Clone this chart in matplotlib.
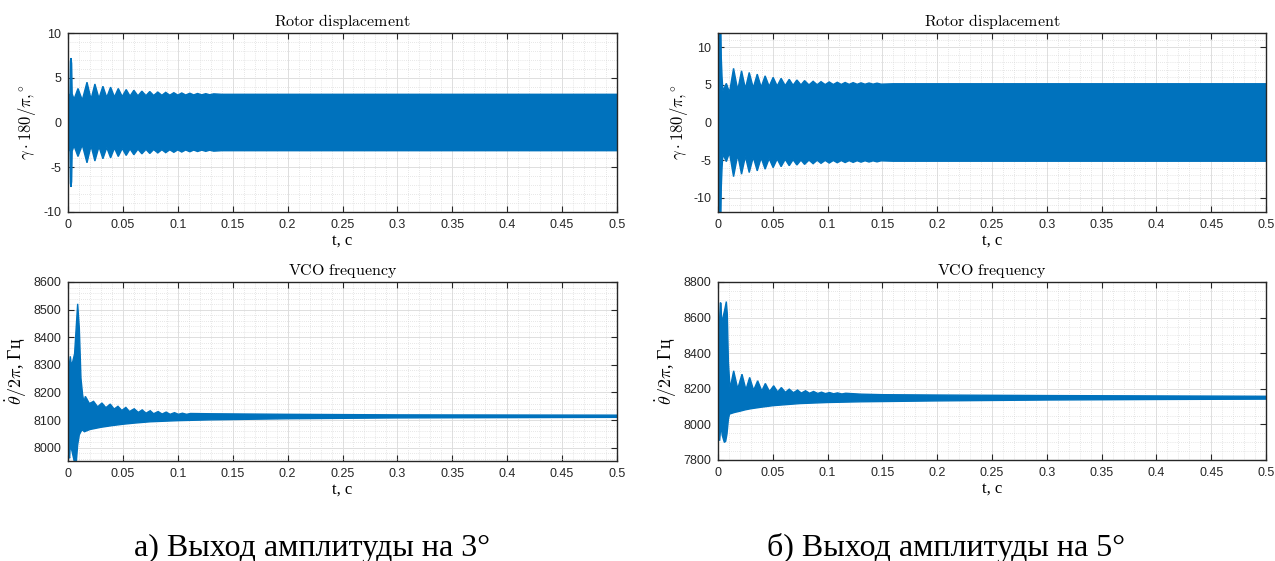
import numpy as np
import matplotlib
matplotlib.use("Agg")
import matplotlib.pyplot as plt
from matplotlib.ticker import MultipleLocator, FuncFormatter

plt.rcParams['mathtext.fontset'] = 'cm'
plt.rcParams['axes.unicode_minus'] = False
plt.rcParams['font.family'] = ['Liberation Serif', 'DejaVu Serif']

BLUE = '#0072BD'

# --- Rotor displacement, 3 deg: envelope amplitude (signal is symmetric around 0)
t_rot3 = [0, 0.0005, 0.0018, 0.0022, 0.0027, 0.0033, 0.0038, 0.0055,
          0.0091, 0.0130, 0.0173, 0.0210, 0.0245, 0.0282, 0.0318, 0.0353,
          0.0388, 0.0423, 0.0458, 0.0494, 0.0530, 0.0565, 0.0600, 0.0637,
          0.0673, 0.0710, 0.0745, 0.0780, 0.0818, 0.0855, 0.0890, 0.0927,
          0.0964, 0.1000, 0.1036, 0.1072, 0.1110, 0.1145, 0.1180, 0.1218,
          0.1255, 0.1290, 0.1327, 0.1400, 0.2, 0.3, 0.4, 0.5]
amp_rot3 = [0.3, 3.0, 3.2, 6.8, 7.2, 6.6, 3.2, 2.6,
            3.8, 2.5, 4.5, 2.6, 4.3, 2.7, 4.05, 2.8,
            3.95, 2.85, 3.8, 2.9, 3.68, 2.95, 3.6, 2.98,
            3.5, 3.0, 3.46, 3.02, 3.4, 3.04, 3.37, 3.05,
            3.33, 3.06, 3.3, 3.07, 3.27, 3.08, 3.24, 3.09,
            3.22, 3.1, 3.2, 3.15, 3.15, 3.15, 3.15, 3.15]

# --- Rotor displacement, 5 deg
t_rot5 = [0, 0.0004, 0.0008, 0.0025, 0.0030, 0.0037, 0.0045,
          0.0076, 0.0105, 0.0142, 0.0180, 0.0215, 0.0250, 0.0285, 0.0322,
          0.0358, 0.0394, 0.0430, 0.0467, 0.0503, 0.0540, 0.0576, 0.0613,
          0.0650, 0.0685, 0.0720, 0.0757, 0.0790, 0.0830, 0.0868, 0.0905,
          0.0940, 0.0978, 0.1015, 0.1052, 0.1088, 0.1125, 0.1160, 0.1197,
          0.1233, 0.1270, 0.1305, 0.1342, 0.1378, 0.1415, 0.1451, 0.1488,
          0.16, 0.2, 0.3, 0.4, 0.5]
amp_rot5 = [0.5, 5.0, 14, 14, 8.6, 6.0, 4.2,
            5.2, 4.0, 7.2, 4.3, 6.87, 4.5, 6.65, 4.6,
            6.43, 4.7, 6.2, 4.8, 6.0, 4.85, 5.87, 4.9,
            5.74, 4.95, 5.65, 5.0, 5.57, 5.0, 5.48, 5.02,
            5.43, 5.04, 5.39, 5.05, 5.35, 5.06, 5.32, 5.07,
            5.3, 5.08, 5.27, 5.09, 5.25, 5.1, 5.23, 5.1,
            5.15, 5.15, 5.15, 5.15, 5.15]

# --- VCO frequency, 3 deg: upper and lower edge of the band
t_vco3_hi = [0, 0.0004, 0.0021, 0.0030, 0.0042, 0.0060, 0.0088, 0.0103,
             0.0118, 0.0133, 0.0145, 0.0158, 0.0195, 0.0233, 0.0270, 0.0309,
             0.0345, 0.0385, 0.0420, 0.0455, 0.0490, 0.0527, 0.0560, 0.0603,
             0.0640, 0.0676, 0.0710, 0.0749, 0.0780, 0.0821, 0.0857, 0.0894,
             0.0930, 0.0970, 0.1005, 0.1042, 0.1080, 0.1115, 0.1300, 0.2,
             0.3, 0.5]
v_vco3_hi = [8160, 8270, 8331, 8300, 8310, 8340, 8521, 8434,
             8252, 8192, 8165, 8186, 8160, 8168, 8148, 8162,
             8145, 8158, 8140, 8150, 8135, 8146, 8131, 8141,
             8128, 8137, 8125, 8134, 8123, 8131, 8122, 8129,
             8121, 8127, 8121, 8125, 8121, 8124, 8123, 8121,
             8119, 8118]
t_vco3_lo = [0, 0.0006, 0.0015, 0.0021, 0.0035, 0.0060, 0.0075, 0.0088,
             0.0103, 0.0127, 0.0150, 0.02, 0.03, 0.04, 0.05, 0.06,
             0.075, 0.1, 0.13, 0.2, 0.3, 0.5]
v_vco3_lo = [8070, 7975, 7962, 8010, 7990, 7945, 7945, 8010,
             8047, 8065, 8058, 8066, 8074, 8080, 8085, 8089,
             8094, 8098, 8101, 8105, 8108, 8110]

# --- VCO frequency, 5 deg
t_vco5_hi = [0, 0.0004, 0.0012, 0.0021, 0.0028, 0.0033, 0.0045, 0.0060,
             0.0076, 0.0085, 0.0095, 0.0110, 0.0143, 0.0180, 0.0219, 0.0255,
             0.0289, 0.0325, 0.0362, 0.0400, 0.0432, 0.0470, 0.0508, 0.0545,
             0.0578, 0.0615, 0.0650, 0.0688, 0.0726, 0.0760, 0.0799, 0.0835,
             0.0872, 0.0910, 0.0945, 0.0980, 0.1018, 0.1055, 0.1090, 0.1130,
             0.1165, 0.13, 0.15, 0.2, 0.3, 0.4, 0.5]
v_vco5_hi = [8250, 8400, 8550, 8684, 8680, 8560, 8600, 8640,
             8690, 8620, 8350, 8200, 8301, 8200, 8282, 8195,
             8264, 8192, 8245, 8188, 8230, 8185, 8217, 8182,
             8207, 8180, 8198, 8178, 8193, 8176, 8189, 8175,
             8185, 8174, 8181, 8173, 8179, 8172, 8177, 8171,
             8175, 8170, 8167, 8165, 8162, 8160, 8158]
t_vco5_lo = [0, 0.0005, 0.0015, 0.0022, 0.0028, 0.0038, 0.0058, 0.0070,
             0.0082, 0.0095, 0.0105, 0.015, 0.02, 0.025, 0.03, 0.04,
             0.05, 0.06, 0.075, 0.1, 0.13, 0.2, 0.3, 0.4, 0.5]
v_vco5_lo = [8050, 7950, 7908, 7960, 8000, 7940, 7899, 7905,
             7946, 8030, 8058, 8067, 8074, 8082, 8088, 8097,
             8105, 8110, 8117, 8123, 8127, 8132, 8137, 8140, 8142]

x_ticks = [0, 0.05, 0.1, 0.15, 0.2, 0.25, 0.3, 0.35, 0.4, 0.45, 0.5]
captions = ['а) Выход амплитуды на 3°', 'б) Выход амплитуды на 5°']

fig = plt.figure(figsize=(12.75, 5.61), dpi=100)
W, H = 1275.0, 561.0


def make_ax(x0, y0, x1, y1):
    return fig.add_axes([x0 / W, 1 - y1 / H, (x1 - x0) / W, (y1 - y0) / H])


def style(ax, ylim, ymajor, yminor, title, ylabel, ylabel_size, pad):
    ax.set_xlim(0, 0.5)
    ax.set_ylim(*ylim)
    ax.set_xticks(x_ticks)
    ax.yaxis.set_major_locator(MultipleLocator(ymajor))
    ax.xaxis.set_minor_locator(MultipleLocator(0.01))
    ax.yaxis.set_minor_locator(MultipleLocator(yminor))
    fmt = FuncFormatter(lambda v, _: f'{v:g}')
    ax.xaxis.set_major_formatter(fmt)
    ax.yaxis.set_major_formatter(fmt)
    ax.grid(which='major', color='#dedede', lw=0.7, ls='-')
    ax.grid(which='minor', color='#d0d0d0', lw=0.5, ls=(0, (1, 2)))
    ax.set_axisbelow(True)
    ax.tick_params(which='major', direction='in', length=4, top=True, right=True,
                   color='#262626', labelsize=9, labelcolor='#262626', pad=5)
    ax.tick_params(which='minor', length=0, top=True, right=True)
    for lab in ax.get_xticklabels() + ax.get_yticklabels():
        lab.set_fontfamily('Liberation Sans')
    for s in ax.spines.values():
        s.set_color('#262626')
        s.set_linewidth(1.0)
    ax.set_title(title, fontsize=11.5, pad=5)
    ax.set_xlabel('t, с', fontsize=12, labelpad=1)
    ax.set_ylabel(ylabel, fontsize=ylabel_size, labelpad=pad)


def band(ax, t_hi, v_hi, t_lo, v_lo):
    xs = np.concatenate([t_hi, t_lo[::-1]])
    ys = np.concatenate([v_hi, v_lo[::-1]])
    ax.fill(xs, ys, color=BLUE, lw=1.0, ec=BLUE)


# top row: rotor displacement
ax = make_ax(68, 33, 617, 212)
t = np.array(t_rot3); a = np.array(amp_rot3)
band(ax, t, a, t, -a)
style(ax, (-10, 10), 5, 1, r'$\mathrm{Rotor\ displacement}$',
      r'$\gamma\cdot180/\pi{,}^\circ$', 12, 4)

ax = make_ax(718, 33, 1266, 212)
t = np.array(t_rot5); a = np.array(amp_rot5)
band(ax, t, a, t, -a)
style(ax, (-11.9, 11.9), 5, 1, r'$\mathrm{Rotor\ displacement}$',
      r'$\gamma\cdot180/\pi{,}^\circ$', 12, 2)

# bottom row: VCO frequency
ax = make_ax(68, 282, 617, 461)
band(ax, np.array(t_vco3_hi), np.array(v_vco3_hi),
     np.array(t_vco3_lo), np.array(v_vco3_lo))
style(ax, (7952, 8600), 100, 20, r'$\mathrm{VCO\ frequency}$',
      r'$\dot{\theta}/2\pi$, Гц', 13, 3)

ax = make_ax(718, 282, 1266, 460)
band(ax, np.array(t_vco5_hi), np.array(v_vco5_hi),
     np.array(t_vco5_lo), np.array(v_vco5_lo))
style(ax, (7800, 8800), 200, 50, r'$\mathrm{VCO\ frequency}$',
      r'$\dot{\theta}/2\pi$, Гц', 13, 3)

fig.text(312 / W, 1 - 548 / H, captions[0], fontsize=23, ha='center', va='center')
fig.text(946 / W, 1 - 548 / H, captions[1], fontsize=23, ha='center', va='center')

fig.savefig('out.png', dpi=100)
